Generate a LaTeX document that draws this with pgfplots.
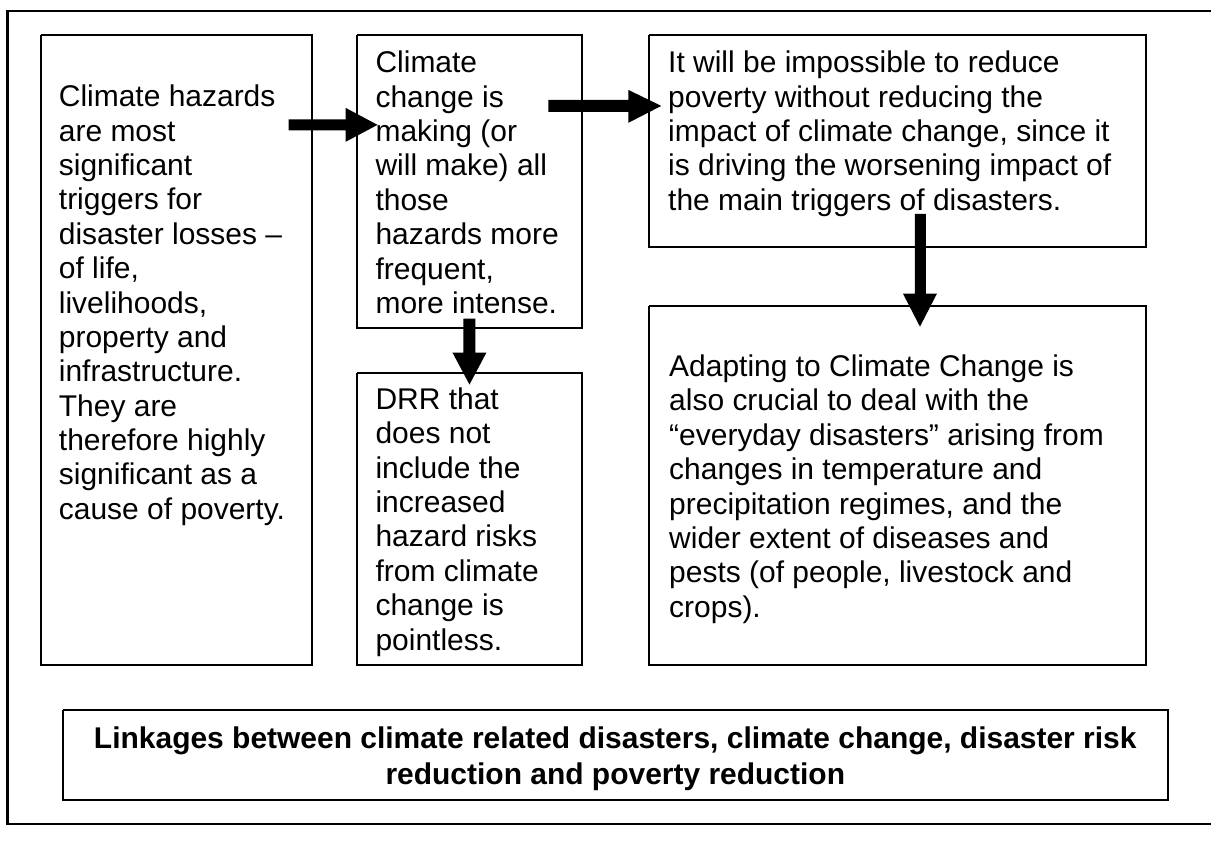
\documentclass[border=0pt]{standalone}
\usepackage{pgfplots}
\pgfplotsset{compat=1.18}
\usepackage{fontspec}
\setmainfont{Liberation Sans}
\newcommand{\tl}[3]{\node[anchor=base west,inner sep=0pt,outer sep=0pt] at (axis cs:#1,#2) {#3};}
\begin{document}
\fontsize{12}{13.8}\selectfont
\begin{tikzpicture}
\begin{axis}[
  width=484.8pt, height=340.8pt, scale only axis,
  xmin=0, xmax=1212, ymin=0, ymax=852, y dir=reverse,
  axis lines=none, ticks=none, clip=false,
]
% bounding area
\path (axis cs:0,0) rectangle (axis cs:1212,852);
% outer frame (no visible right edge)
\addplot[black, line width=1.1pt, line join=miter] coordinates {(1212,11) (7.5,11) (7.5,825) (1212,825)};
% boxes
\addplot[black, line width=0.75pt] coordinates {(41,35) (312,35) (312,666) (41,666) (41,35)};
\addplot[black, line width=0.75pt] coordinates {(357,35) (583,35) (583,328) (357,328) (357,35)};
\addplot[black, line width=0.75pt] coordinates {(357,373) (583,373) (583,666) (357,666) (357,373)};
\addplot[black, line width=0.75pt] coordinates {(650,35) (1147,35) (1147,247) (650,247) (650,35)};
\addplot[black, line width=0.75pt] coordinates {(650,306) (1147,306) (1147,666) (650,666) (650,306)};
\addplot[black, line width=0.75pt] coordinates {(63,711) (1169,711) (1169,801) (63,801) (63,711)};
% arrows
\addplot[fill=black, draw=none] coordinates {(289,119.5) (346,119.5) (346,108) (378,125) (346,142) (346,130.5) (289,130.5)} -- cycle;
\addplot[fill=black, draw=none] coordinates {(549,100) (629,100) (629,90) (662,106) (629,123) (629,112) (549,112)} -- cycle;
\addplot[fill=black, draw=none] coordinates {(464,319) (476,319) (476,353) (487,353) (470,385) (453,353) (464,353)} -- cycle;
\addplot[fill=black, draw=none] coordinates {(916,214) (927,214) (927,294) (938,294) (921,327) (904,294) (916,294)} -- cycle;
% box 1 text
\tl{59}{107}{Climate hazards}
\tl{59}{141.4}{are most}
\tl{59}{175.8}{significant}
\tl{59}{210.2}{triggers for}
\tl{59}{244.6}{disaster losses –}
\tl{59}{279}{of life,}
\tl{59}{313.4}{livelihoods,}
\tl{59}{347.8}{property and}
\tl{59}{382.2}{infrastructure.}
\tl{59}{416.6}{They are}
\tl{59}{451}{therefore highly}
\tl{59}{485.4}{significant as a}
\tl{59}{519.8}{cause of poverty.}
% box 2 text
\tl{376}{73}{Climate}
\tl{376}{107.4}{change is}
\tl{376}{141.8}{making (or}
\tl{376}{176.2}{will make) all}
\tl{376}{210.6}{those}
\tl{376}{245}{hazards more}
\tl{376}{279.4}{frequent,}
\tl{376}{313.8}{more intense.}
% box 3 text
\tl{376}{410}{DRR that}
\tl{376}{444.4}{does not}
\tl{376}{478.8}{include the}
\tl{376}{513.2}{increased}
\tl{376}{547.6}{hazard risks}
\tl{376}{582}{from climate}
\tl{376}{616.4}{change is}
\tl{376}{650.8}{pointless.}
% box 4 text
\tl{669}{73}{It will be impossible to reduce}
\tl{669}{107.4}{poverty without reducing the}
\tl{669}{141.8}{impact of climate change, since it}
\tl{669}{176.2}{is driving the worsening impact of}
\tl{669}{210.6}{the main triggers of disasters.}
% box 5 text
\tl{670}{377}{Adapting to Climate Change is}
\tl{670}{411.4}{also crucial to deal with the}
\tl{670}{445.8}{“everyday disasters” arising from}
\tl{670}{480.2}{changes in temperature and}
\tl{670}{514.6}{precipitation regimes, and the}
\tl{670}{549}{wider extent of diseases and}
\tl{670}{583.4}{pests (of people, livestock and}
\tl{670}{617.8}{crops).}
% title
\node[anchor=base,inner sep=0pt,font=\bfseries] at (axis cs:616,749) {Linkages between climate related disasters, climate change, disaster risk};
\node[anchor=base,inner sep=0pt,font=\bfseries] at (axis cs:616,785) {reduction and poverty reduction};
\end{axis}
\end{tikzpicture}
\end{document}
